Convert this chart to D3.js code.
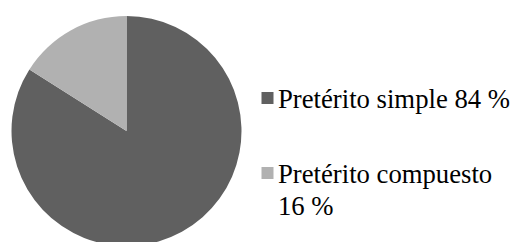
<!DOCTYPE html>
<html>
<head>
<meta charset="utf-8">
<script src="https://cdn.jsdelivr.net/npm/d3@7"></script>
<style>
  html, body { margin: 0; padding: 0; background: #fff; }
</style>
</head>
<body>
<script>
const categories = ['Pretérito simple', 'Pretérito compuesto'];
const values = [84, 16];
const valueLabels = ['84 %', '16 %'];
const colors = ['#606060', '#b1b1b1'];

const width = 514;
const height = 242;
const center = { x: 126.5, y: 131 };
const radius = 115;
const fontFamily = "'Liberation Serif', Tinos, 'Times New Roman', serif";

const svg = d3.select('body')
  .append('svg')
    .attr('width', width)
    .attr('height', height);

const pie = d3.pie()
    .sort(null)
    .value(d => d);

const arc = d3.arc()
    .innerRadius(0)
    .outerRadius(radius);

svg.append('g')
    .attr('transform', `translate(${center.x}, ${center.y})`)
  .selectAll('path')
  .data(pie(values))
  .join('path')
    .attr('d', arc)
    .attr('fill', (d, i) => colors[i]);

// legend
const legendX = 261.5;
const textX = 278;
const fontSize = 26.7;
const lineHeight = 32;
const itemBaselines = [108, 183];

const legend = svg.append('g');

categories.forEach((cat, i) => {
  legend.append('rect')
      .attr('x', legendX)
      .attr('y', itemBaselines[i] - 16)
      .attr('width', 12)
      .attr('height', 12)
      .attr('fill', colors[i]);

  const text = legend.append('text')
      .attr('x', textX)
      .attr('y', itemBaselines[i])
      .attr('font-family', fontFamily)
      .attr('font-size', fontSize)
      .attr('fill', '#000');

  // the long label wraps its value onto a second line
  const lines = i === 0 ? [`${cat} ${valueLabels[i]}`] : [cat, valueLabels[i]];
  lines.forEach((l, j) => {
    text.append('tspan')
        .attr('x', textX)
        .attr('dy', j === 0 ? 0 : lineHeight)
        .text(l);
  });
});
</script>
</body>
</html>
